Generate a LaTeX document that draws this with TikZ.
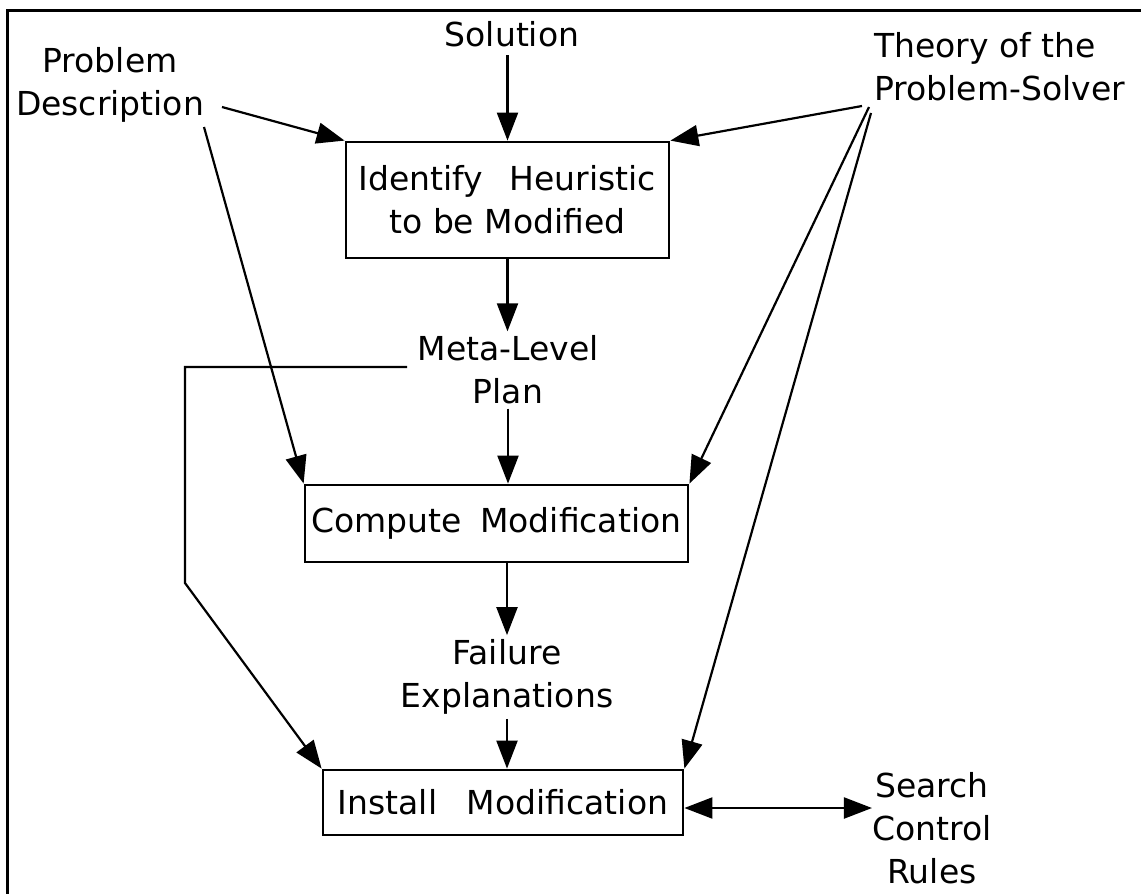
\documentclass[tikz,border=0pt]{standalone}
\usepackage{fontspec}
\setmainfont{DejaVu Sans}
\usetikzlibrary{arrows.meta}
\begin{document}
\begin{tikzpicture}[x=0.5pt,y=-0.5pt,
  lbl/.style={font=\fontsize{16.5}{21.5}\selectfont, align=center, inner sep=2pt},
  box/.style={draw, line width=1.4pt, font=\fontsize{16.5}{21.5}\selectfont, align=center, inner sep=0pt},
  conn/.style={line width=1.1pt, -{Triangle[length=14pt,width=10.5pt]}},
  dconn/.style={line width=1.1pt, {Triangle[length=14pt,width=10.5pt]}-{Triangle[length=14pt,width=10.5pt]}},
]
\useasboundingbox (0,0) rectangle (1141,894);
\draw[line width=1.5pt] (7,10) rectangle (1150,905);

% boxes
\node[box, minimum width=161.5pt, minimum height=58pt] (b1) at (507.5,200) {Identify\hspace{0.8em}Heuristic\\to be Modified};
\node[box, minimum width=191.5pt, minimum height=38.5pt] (b2) at (496.5,523.5) {Compute\hspace{0.55em}Modification};
\node[box, minimum width=180pt, minimum height=32.5pt] (b3) at (503,802.5) {Install\hspace{0.9em}Modification};

% labels
\node[lbl] (sol) at (512,34) {Solution};
\node[lbl] (pd) at (110,85) {Problem\\Description};
\node[lbl, align=left, anchor=west, inner sep=0pt] (th) at (874,67) {Theory of the\\Problem-Solver};
\node[lbl] (meta) at (508,370) {Meta-Level\\Plan};
\node[lbl] (fail) at (507,677) {Failure\\Explanations};
\node[lbl, inner sep=0pt] (scr) at (932,828) {Search\\Control\\Rules};

% free ends
\coordinate (pdA) at (222,107);
\coordinate (pdB) at (204,127);
\coordinate (thA) at (862,106);
\coordinate (thB) at (869,107);
\coordinate (thC) at (871,113);
\coordinate (mA) at (407,367);
\coordinate (mB) at (185,367);
\coordinate (mC) at (185,583);

% connectors
\draw[conn] (b1.north |- sol.south) ++(0,4) -- (b1.north);
\draw[conn] (pdA) -- (b1.north west);
\draw[conn] (pdB) -- (b2.north west);
\draw[conn] (thA) -- (b1.north east);
\draw[conn] (thB) -- (b2.north east);
\draw[conn] (thC) -- (b3.north east);
\draw[conn] (b1.south) -- (b1.south |- meta.north);
\draw[conn] (meta.south) -- (meta.south |- b2.north);
\draw[conn] (mA) -- (mB) -- (mC) -- (b3.north west);
\draw[conn] (fail.north |- b2.south) -- (fail.north);
\draw[conn] (fail.south) -- (fail.south |- b3.north);
\draw[dconn] ([yshift=-2.75pt]b3.east) -- ([yshift=-2.75pt]b3.east -| scr.west);
\end{tikzpicture}
\end{document}
